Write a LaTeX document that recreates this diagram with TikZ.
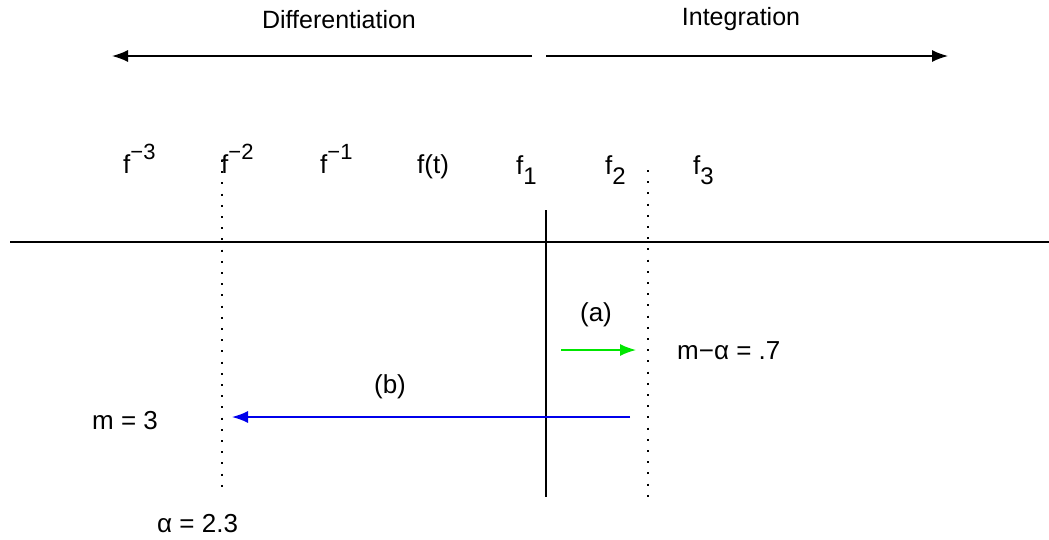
\documentclass[tikz,border=0pt]{standalone}
\usepackage{fontspec}
\setmainfont{Liberation Sans}
\usetikzlibrary{arrows.meta}
\definecolor{agreen}{RGB}{0,230,0}
\definecolor{bblue}{RGB}{0,0,235}
\newcommand{\supx}[1]{\raisebox{14pt}{\fontsize{22}{22}\selectfont #1}}
\newcommand{\subx}[1]{\raisebox{-10pt}{\fontsize{24}{24}\selectfont #1}}
\tikzset{
  lbl/.style={inner sep=0pt, font=\fontsize{26}{30}\selectfont},
  ttl/.style={inner sep=0pt, font=\fontsize{25}{30}\selectfont},
  axis/.style={line width=1.5pt, black},
  arr/.style={line width=1.5pt, -{Latex[length=16pt,width=12pt]}},
  dotline/.style={line width=2pt, dash pattern=on 2pt off 9.2pt}
}
\begin{document}
\begin{tikzpicture}[x=1pt,y=-1pt]
\useasboundingbox (0,0) rectangle (1049,539);
% titles
\node[ttl, anchor=base] (diff) at (339,28) {Differentiation};
\node[ttl, anchor=base] (integ) at (741,25) {Integration};
\coordinate (dL0) at (532,56);
\coordinate (dL1) at (112,56);
\coordinate (iR0) at (546,56);
\coordinate (iR1) at (948,56);
\draw[arr] (dL0) -- (dL1);
\draw[arr] (iR0) -- (iR1);
% function labels
\node[lbl, anchor=base west] (fm3) at (123,173) {f\supx{−3}};
\node[lbl, anchor=base west] (fm2) at (221,173) {f\supx{−2}};
\node[lbl, anchor=base west] (fm1) at (320,173) {f\supx{−1}};
\node[lbl, anchor=base west] (ft)  at (417,173) {f(t)};
\node[lbl, anchor=base west] (f1)  at (516,174) {f\subx{1}};
\node[lbl, anchor=base west] (f2)  at (605,174) {f\subx{2}};
\node[lbl, anchor=base west] (f3)  at (693,174) {f\subx{3}};
% axes
\coordinate (hL) at (10,242);
\coordinate (hR) at (1049,242);
\coordinate (vT) at (546,210);
\coordinate (vB) at (546,497);
\draw[axis] (hL) -- (hR);
\draw[axis] (vT) -- (vB);
% dotted lines
\coordinate (d1T) at (222,160);
\coordinate (d1B) at (222,490);
\coordinate (d2T) at (648,170);
\coordinate (d2B) at (648,498);
\draw[dotline] (d1T) -- (d1B);
\draw[dotline] (d2T) -- (d2B);
% (a)
\node[lbl, anchor=base] (a) at (596,321) {(a)};
\coordinate (aS) at (561,350);
\coordinate (aE) at (636,350);
\draw[arr, agreen] (aS) -- (aE);
\node[lbl, anchor=base west] (ma) at (677,359) {m−α = .7};
% (b)
\node[lbl, anchor=base] (b) at (390,393) {(b)};
\coordinate (bS) at (630,417);
\coordinate (bE) at (232,417);
\draw[arr, bblue] (bS) -- (bE);
\node[lbl, anchor=base west] (m3) at (92,429) {m = 3};
\node[lbl, anchor=base west] (al) at (157,532) {α = 2.3};
\end{tikzpicture}
\end{document}
